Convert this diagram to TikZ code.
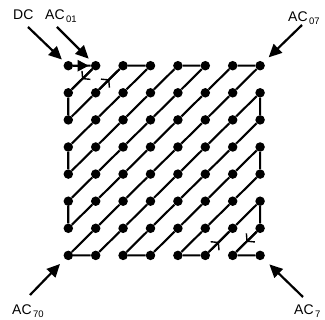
\documentclass[tikz,border=0pt]{standalone}
\usepackage{fontspec}
\setmainfont{Liberation Sans}
\usetikzlibrary{arrows.meta,decorations.markings}
\newcommand\mysub[1]{\kern1.5pt\raisebox{-3pt}{\fontsize{9.5}{10}\selectfont #1}}
\begin{document}
\begin{tikzpicture}[x=1pt,y=-1pt,
  dot/.style={circle,fill=black,inner sep=0pt,minimum size=9.5pt},
  pathline/.style={line width=2.1pt},
  bigarrow/.style={line width=2.2pt,-{Triangle[length=13pt,width=12pt]}},
  midarr/.style={postaction={decorate},decoration={markings,mark=at position #1 with {\arrow{Straight Barb[length=5pt,width=12pt,line width=1.4pt]}}}},
  lbl/.style={anchor=base west,inner sep=0pt,font=\fontsize{14}{16}\selectfont}]
\useasboundingbox (0,0) rectangle (325,320);
\foreach \r in {0,...,7}{\foreach \c in {0,...,7}{
  \node[dot] (n\r\c) at ({68.3+27.4*\c},{65.7+27.1*\r}) {};}}
\draw[pathline] (n00) -- (n01) -- (n10) -- (n20) -- (n11) -- (n02) -- (n03) -- (n12) -- (n21) -- (n30)
  -- (n40) -- (n31) -- (n22) -- (n13) -- (n04) -- (n05) -- (n14) -- (n23) -- (n32) -- (n41) -- (n50)
  -- (n60) -- (n51) -- (n42) -- (n33) -- (n24) -- (n15) -- (n06) -- (n07) -- (n16) -- (n25) -- (n34)
  -- (n43) -- (n52) -- (n61) -- (n70) -- (n71) -- (n62) -- (n53) -- (n44) -- (n35) -- (n26) -- (n17)
  -- (n27) -- (n36) -- (n45) -- (n54) -- (n63) -- (n72) -- (n73) -- (n64) -- (n55) -- (n46) -- (n37)
  -- (n47) -- (n56) -- (n65) -- (n74) -- (n75) -- (n66) -- (n57) -- (n67) -- (n76) -- (n77);
\draw[pathline,-{Triangle[length=11pt,width=11pt]},shorten >=2pt] (n00) -- (n01);
\draw[pathline,midarr=0.5] (n01) -- (n10);
\draw[pathline,midarr=0.5] (n11) -- (n02);
\draw[pathline,midarr=0.5] (n75) -- (n66);
\draw[pathline,midarr=0.5] (n67) -- (n76);
\coordinate (tdc) at (28,27);
\coordinate (t01) at (57,27);
\coordinate (t07) at (302,25);
\coordinate (t70) at (30,295);
\coordinate (t77) at (303,297);
\draw[bigarrow,shorten >=4pt] (tdc) -- (n00);
\draw[bigarrow,shorten >=5pt] (t01) -- (n01);
\draw[bigarrow,shorten >=7pt] (t07) -- (n07);
\draw[bigarrow,shorten >=7pt] (t70) -- (n70);
\draw[bigarrow,shorten >=8pt] (t77) -- (n77);
\node[lbl] (ldc) at (13,20) {DC};
\node[lbl] (l01) at (45,20) {AC\mysub{01}};
\node[lbl] (l07) at (288,22) {AC\mysub{07}};
\node[lbl] (l70) at (12,315) {AC\mysub{70}};
\node[lbl] (l77) at (294,315) {AC\mysub{7}};
\end{tikzpicture}
\end{document}
